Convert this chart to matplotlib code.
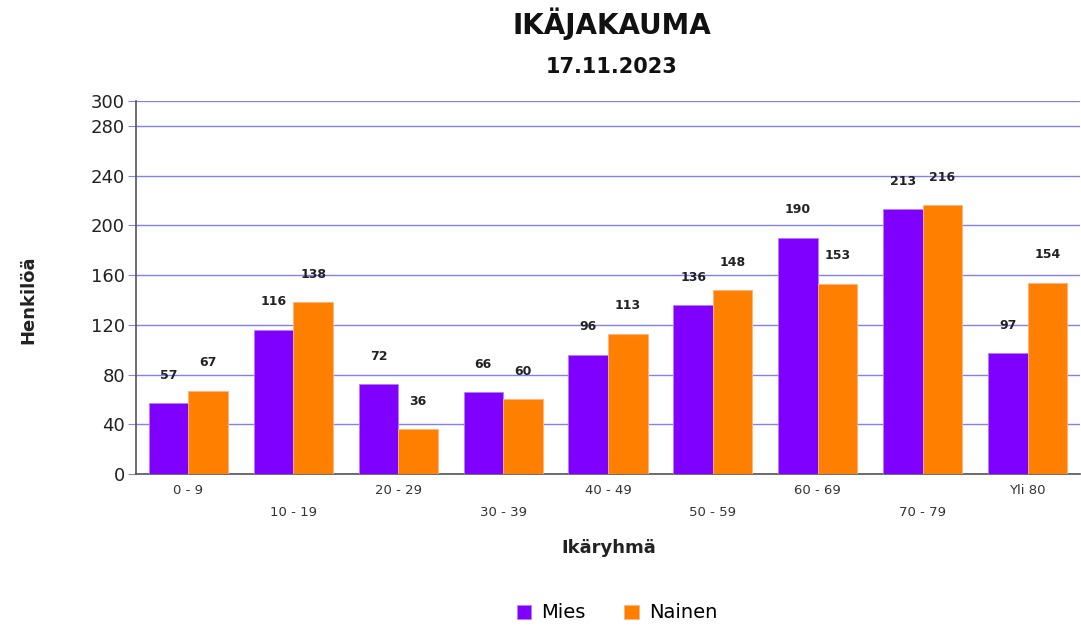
import matplotlib
matplotlib.use("Agg")
import matplotlib.pyplot as plt
import numpy as np

categories = ["0 - 9", "10 - 19", "20 - 29", "30 - 39", "40 - 49", "50 - 59", "60 - 69", "70 - 79", "Yli 80"]
mies = [57, 116, 72, 66, 96, 136, 190, 213, 97]
nainen = [67, 138, 36, 60, 113, 148, 153, 216, 154]
yticks = [0, 40, 80, 120, 160, 200, 240, 280, 300]

plt.rcParams['font.family'] = ['DejaVu Sans']

fig = plt.figure(figsize=(10.81, 6.26), dpi=100)
ax = fig.add_axes([136/1081, 1-474/626, (1080-136)/1081, (474-101)/626])

x = np.arange(len(categories))
w = 0.377
c_m = "#8000ff"
c_n = "#ff8000"
b1 = ax.bar(x - w/2, mies, w, color=c_m, edgecolor="#b380ff", linewidth=0.6, label="Mies", zorder=3)
b2 = ax.bar(x + w/2, nainen, w, color=c_n, edgecolor="#ffb380", linewidth=0.6, label="Nainen", zorder=3)

for rects, vals in ((b1, mies), (b2, nainen)):
    for r, v in zip(rects, vals):
        ax.annotate(str(v), (r.get_x() + r.get_width()/2, v), xytext=(0, 20),
                    textcoords="offset points", ha="center", va="center",
                    fontsize=9, fontweight="bold", color="#222222", zorder=4)

ax.set_xlim(-0.5, len(categories) - 0.5)
ax.set_ylim(0, 300)
ax.set_yticks(yticks)
ax.set_yticklabels([str(t) for t in yticks], fontsize=13, color="#222222")
ax.yaxis.grid(True, color="#8080ff", linewidth=1.0, zorder=0)
ax.tick_params(axis="y", length=6, color="#8080ff", pad=2)

ax.set_xticks(x)
ax.set_xticklabels(categories, fontsize=9.5, color="#333333")
ax.tick_params(axis="x", length=0)
for i, t in enumerate(ax.xaxis.get_major_ticks()):
    t.set_pad(7 if i % 2 == 0 else 23)

for s in ("top", "right"):
    ax.spines[s].set_visible(False)
ax.spines["left"].set_color("#555555")
ax.spines["bottom"].set_color("#555555")
ax.spines["left"].set_linewidth(1.2)
ax.spines["bottom"].set_linewidth(1.2)

fig.text(612/1081, 1-24/626, "IKÄJAKAUMA", ha="center", va="center", fontsize=20, fontweight="bold", color="#111111")
fig.text(612/1081, 1-67/626, "17.11.2023", ha="center", va="center", fontsize=15, fontweight="bold", color="#111111")
fig.text(28/1081, 1-300/626, "Henkilöä", rotation=90, ha="center", va="center", fontsize=13, fontweight="bold", color="#222222")
fig.text(609/1081, 1-548/626, "Ikäryhmä", ha="center", va="center", fontsize=13, fontweight="bold", color="#222222")

fig.legend(handles=[b1, b2], labels=["Mies", "Nainen"], loc="center", bbox_to_anchor=(617/1081, 1-613/626),
           ncol=2, frameon=False, fontsize=14, handlelength=0.75, handleheight=0.75, columnspacing=2.0, handletextpad=0.5)

fig.savefig("out.png", dpi=100)
